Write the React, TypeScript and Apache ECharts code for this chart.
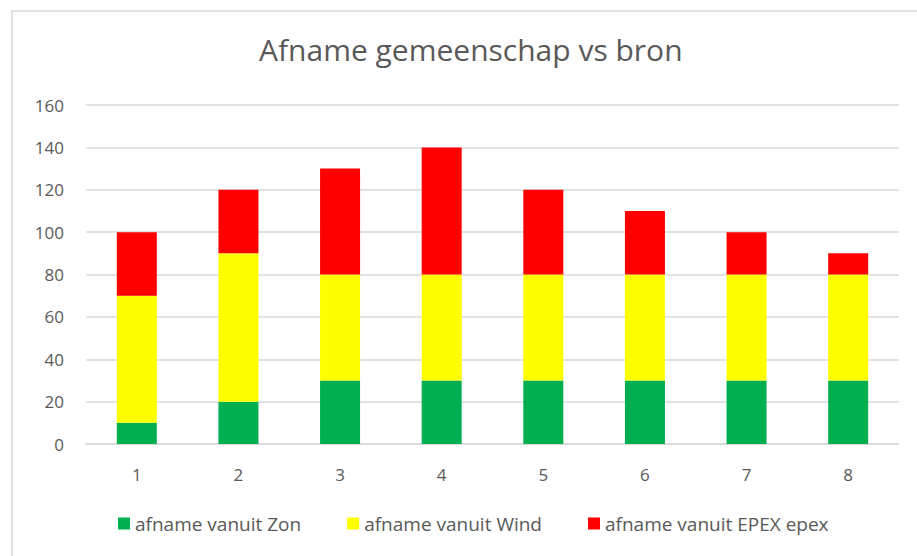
import React, { useEffect, useRef } from "react";
import * as echarts from "echarts";

const categories = ["1", "2", "3", "4", "5", "6", "7", "8"];
const zon = [10, 20, 30, 30, 30, 30, 30, 30];
const wind = [60, 70, 50, 50, 50, 50, 50, 50];
const epex = [30, 30, 50, 60, 40, 30, 20, 10];
const seriesNames = ["afname vanuit Zon", "afname vanuit Wind", "afname vanuit EPEX epex"];
const colors = ["#00B050", "#FFFF00", "#FF0000"];

export default function App() {
  const ref = useRef<HTMLDivElement>(null);
  useEffect(() => {
    if (!ref.current) return;
    const chart = echarts.init(ref.current, null, { renderer: "svg" });
    const font = "'Open Sans', 'Liberation Sans', sans-serif";
    const data = [zon, wind, epex];
    chart.setOption({
      animation: false,
      textStyle: { fontFamily: font },
      title: {
        text: "Afname gemeenschap vs bron",
        left: 254,
        top: 29,
        textStyle: { fontFamily: font, fontSize: 30, fontWeight: "normal", color: "#595959" },
      },
      graphic: [
        {
          type: "rect",
          shape: { x: 12, y: 11, width: 930, height: 580 },
          style: { fill: "none", stroke: "#D9D9D9", lineWidth: 1.5 },
          silent: true,
        },
      ],
      legend: {
        bottom: 18,
        left: 113,
        itemWidth: 12,
        itemHeight: 12,
        itemGap: 46,
        icon: "rect",
        textStyle: { fontFamily: font, fontSize: 19, color: "#595959" },
        data: seriesNames,
      },
      grid: { left: 86, right: 18, top: 105, bottom: 112, containLabel: false },
      xAxis: {
        type: "category",
        data: categories,
        axisLine: { show: true, lineStyle: { color: "#D9D9D9", width: 1.5 } },
        axisTick: { show: false },
        axisLabel: { fontFamily: font, fontSize: 17, color: "#595959", margin: 22 },
      },
      yAxis: {
        type: "value",
        min: 0,
        max: 160,
        interval: 20,
        axisLine: { show: false },
        axisTick: { show: false },
        splitLine: { lineStyle: { color: "#D9D9D9", width: 1.5 } },
        axisLabel: { fontFamily: font, fontSize: 17, color: "#595959", margin: 22 },
      },
      series: seriesNames.map((name, i) => ({
        name,
        type: "bar",
        stack: "total",
        barWidth: 40,
        itemStyle: { color: colors[i] },
        data: data[i],
      })),
    });
    return () => chart.dispose();
  }, []);
  return (
    <div
      ref={ref}
      style={{ position: "absolute", left: 0, top: 0, width: 917, height: 556, background: "#fff" }}
    />
  );
}
